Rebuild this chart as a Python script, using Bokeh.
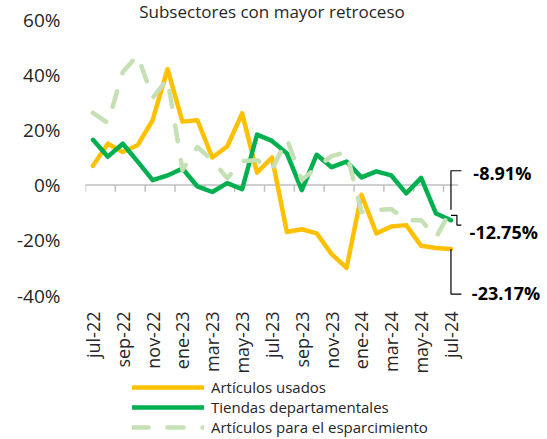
import math
from bokeh.plotting import figure
from bokeh.models import Range1d, FixedTicker, PrintfTickFormatter, Legend, LegendItem, Label
from bokeh.embed import file_html
from bokeh.resources import INLINE

# ---- data ----
months = ["jul-22", "ago-22", "sep-22", "oct-22", "nov-22", "dic-22",
          "ene-23", "feb-23", "mar-23", "abr-23", "may-23", "jun-23",
          "jul-23", "ago-23", "sep-23", "oct-23", "nov-23", "dic-23",
          "ene-24", "feb-24", "mar-24", "abr-24", "may-24", "jun-24", "jul-24"]

usados = [7, 15, 12, 14.5, 23.5, 42, 23, 23.5, 10, 14, 26, 4.5,
          10, -17, -16, -17.5, -25, -30, -3.5, -17.5, -15, -14.5, -22, -22.8, -23.17]
tiendas = [16.4, 10.3, 15, 8.5, 1.8, 3.5, 6, -0.5, -2.5, 0.7, -1.5, 18.3,
           16, 11.5, -1.8, 11, 6.5, 8.5, 2.8, 5, 3.5, -3, 2.6, -10.3, -12.75]
esparc = [26.2, 22.5, 41, 47, 31.6, 38.5, 5.5, 13.8, 9, 2.5, 8.7, 9,
          5.5, 16.7, 1.8, 6.5, 10.5, 12, -9.8, -9, -8.7, -12.7, -12.7, -19, -8.91]

series_names = ["Artículos usados", "Tiendas departamentales", "Artículos para el esparcimiento"]
y_ticks = [-40, -20, 0, 20, 40, 60]
title_text = "Subsectores con mayor retroceso"

# ---- layout constants ----
FONT = "Open Sans"
TXT = "#262626"
W, H = 545, 437
LEFT = 85              # canvas px of the plotting frame's left edge
TOP_60 = 19            # canvas px where 60% sits
PX_PER_PCT = 2.76      # vertical scale
PX_PER_CAT = 14.917    # horizontal scale

x = list(range(len(months)))
n = len(months)
frame_w = W - LEFT
x_range = Range1d(-0.5, -0.5 + frame_w / PX_PER_CAT)
y_top = y_ticks[-1] + TOP_60 / PX_PER_PCT
y_bot = y_top - H / PX_PER_PCT

p = figure(width=W, height=H, output_backend="svg", toolbar_location=None,
           x_range=x_range, y_range=Range1d(y_bot, y_top),
           min_border_left=LEFT, min_border_right=0, min_border_top=0, min_border_bottom=0)
p.xgrid.visible = False
p.ygrid.visible = False
p.xaxis.visible = False
p.outline_line_color = None
p.background_fill_color = "white"
p.border_fill_color = "white"

# y axis
p.yaxis.ticker = FixedTicker(ticks=y_ticks)
p.yaxis.formatter = PrintfTickFormatter(format="%d%%")
p.yaxis.axis_line_color = None
p.yaxis.major_tick_line_color = None
p.yaxis.minor_tick_line_color = None
p.yaxis.major_label_text_font = FONT
p.yaxis.major_label_text_font_size = "19px"
p.yaxis.major_label_text_color = TXT
p.yaxis.major_label_standoff = 19

# category axis line at zero with tick marks between categories
p.segment(x0=[x[0] - 0.5], y0=[0], x1=[x[-1] + 0.5], y1=[0], line_color="#BFBFBF", line_width=1.5)
tick_x = [i - 0.5 for i in x[::2]]
p.segment(x0=tick_x, y0=[0] * len(tick_x), x1=tick_x, y1=[-2.4] * len(tick_x),
          line_color="#BFBFBF", line_width=1.5)

# category labels, low position (below -40%), rotated
lab_y = y_ticks[0] - 16 / PX_PER_PCT
p.text(x=x[::2], y=[lab_y] * len(x[::2]), text=[months[i] for i in x[::2]],
       angle=math.pi / 2, text_align="right", text_baseline="middle",
       text_font={"value": FONT}, text_font_size="18px", text_color=TXT)

r1 = p.line(x, usados, line_color="#FFC000", line_width=4.5, line_join="round", line_cap="round")
r2 = p.line(x, tiendas, line_color="#00B050", line_width=4.5, line_join="round", line_cap="round")
r3 = p.line(x, esparc, line_color="#C5E0B4", line_width=4.5, line_dash="16 19",
            line_join="round", line_cap="round")

legend = Legend(items=[LegendItem(label=series_names[0], renderers=[r1]),
                       LegendItem(label=series_names[1], renderers=[r2]),
                       LegendItem(label=series_names[2], renderers=[r3])],
                location=(47, 0), orientation="vertical",
                glyph_width=72, glyph_height=20, label_height=20, spacing=0,
                padding=0, margin=0, border_line_color=None, background_fill_alpha=0,
                label_text_font=FONT, label_text_font_size="15px", label_text_color=TXT,
                label_standoff=7)
p.add_layout(legend)

# callouts for final values
last = x[-1]
end_vals = [esparc[-1], tiendas[-1], usados[-1]]
leaders = [
    ([last, last, last + 0.7], [end_vals[0], 5.2, 5.2]),
    ([last, last + 0.4, last + 0.4, last + 0.7], [end_vals[1] + 1.8, end_vals[1] + 1.8, -14.5, -14.5]),
    ([last, last, last + 0.7], [end_vals[2], -39.5, -39.5]),
]
for xs, ys in leaders:
    p.line(xs, ys, line_color="black", line_width=1.2)

label_pos = [(last + 1.5, 4.4), (last + 1.25, -17.0), (last + 1.4, -39.1)]
for v, (lx, ly) in zip(end_vals, label_pos):
    p.add_layout(Label(x=lx, y=ly, text=f"{v:.2f}%", text_baseline="middle",
                       text_font=FONT, text_font_size="18px", text_font_style="bold",
                       text_color="black"))

p.add_layout(Label(x=(n - 1) / 2, y=y_ticks[-1] + 8 / PX_PER_PCT, text=title_text,
                   text_align="center", text_baseline="middle", text_font=FONT,
                   text_font_size="17px", text_color=TXT))

open("out.html", "w").write(file_html(p, INLINE))
